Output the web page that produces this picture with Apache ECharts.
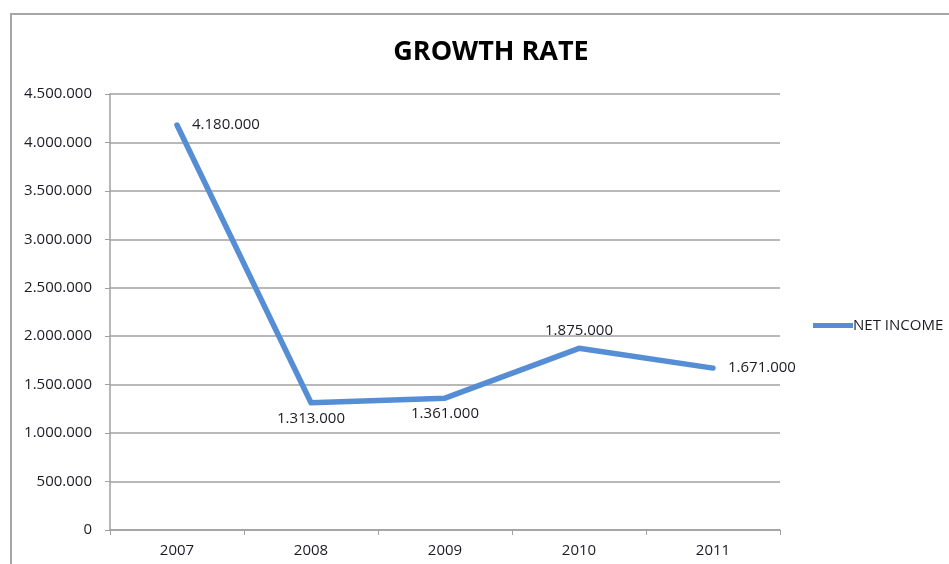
<!DOCTYPE html>
<html><head><meta charset="utf-8">
<script src="https://cdn.jsdelivr.net/npm/echarts@6/dist/echarts.min.js"></script>
<style>html,body{margin:0;padding:0;background:#fff}#c{width:949px;height:564px}</style>
</head><body><div id="c"></div>
<script>
const categories = ['2007','2008','2009','2010','2011'];
const netIncome = [4180000, 1313000, 1361000, 1875000, 1671000];
const labelPositions = ['right','bottom','bottom','top','right'];
const yTicks = { min: 0, max: 4500000, interval: 500000 };

function fmt(v){ return String(Math.round(v)).replace(/\B(?=(\d{3})+(?!\d))/g,'.'); }

const FONT = 'Open Sans';
const TXT = '#1b1b24';
const labelDistance = { right: 14, bottom: 7, top: 9 };
const chart = echarts.init(document.getElementById('c'));
chart.setOption({
  animation:false,
  backgroundColor:'#fff',
  graphic:[{type:'rect',shape:{x:11,y:14,width:1000,height:600},style:{fill:'none',stroke:'#a6a6a6',lineWidth:2},silent:true}],
  title:{text:'GROWTH RATE',left:486,top:34,textAlign:'center',
    textStyle:{fontFamily:FONT,fontWeight:'bold',fontSize:27,color:'#000'}},
  legend:{left:808,top:313,itemWidth:40,itemHeight:5,itemGap:0,icon:'rect',
    textStyle:{fontFamily:FONT,fontSize:15,color:TXT,padding:[0,0,0,-5]},
    data:[{name:'NET INCOME',icon:'rect'}]},
  grid:{left:110,right:169,top:94,bottom:34,containLabel:false},
  xAxis:{type:'category',data:categories,boundaryGap:true,
    axisLine:{lineStyle:{color:'#a0a0a0',width:1.5}},
    axisTick:{show:true,length:5,lineStyle:{color:'#a0a0a0'}},
    axisLabel:{fontFamily:FONT,fontSize:15,color:TXT,margin:13},
    splitLine:{show:false}},
  yAxis:{type:'value',min:yTicks.min,max:yTicks.max,interval:yTicks.interval,
    axisLine:{show:true,lineStyle:{color:'#a0a0a0',width:1.5}},
    axisTick:{show:true,length:5,lineStyle:{color:'#a0a0a0'}},
    axisLabel:{fontFamily:FONT,fontSize:15,color:TXT,margin:18,formatter:fmt},
    splitLine:{lineStyle:{color:'#a0a0a0',width:1.5}}},
  series:[{name:'NET INCOME',type:'line',
    data:netIncome.map((v,i)=>({value:v,label:{position:labelPositions[i],distance:labelDistance[labelPositions[i]]}})),
    showSymbol:true,symbol:'circle',symbolSize:2,
    lineStyle:{color:'#558ed5',width:5.5,cap:'round',join:'round'},
    itemStyle:{color:'#558ed5'},
    label:{show:true,fontFamily:FONT,fontSize:15,color:TXT,formatter:p=>fmt(p.value)}
  }]
});
</script></body></html>
